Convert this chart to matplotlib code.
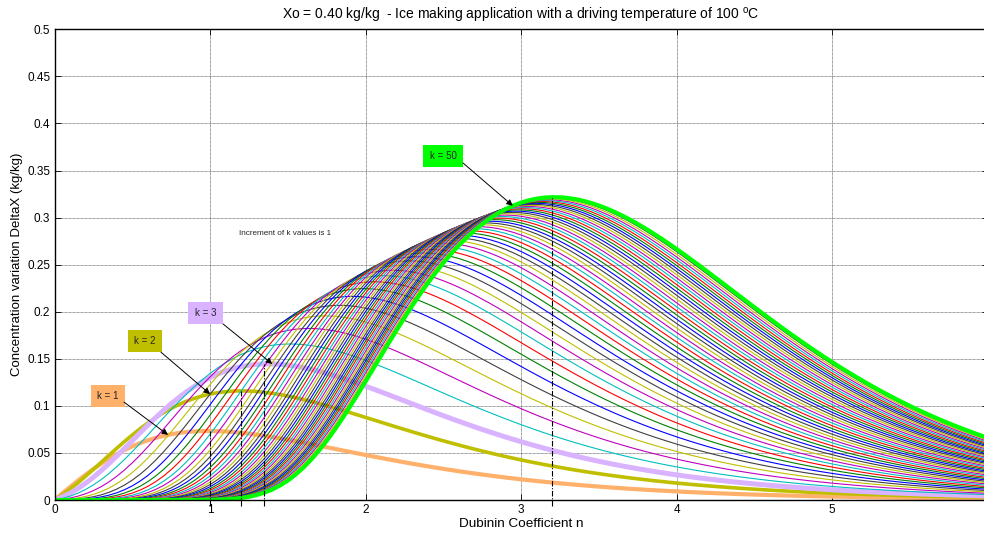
import numpy as np
import matplotlib.pyplot as plt

plt.rcParams['font.family'] = ['Liberation Sans', 'DejaVu Sans']

# values
Xo = 0.40                              # kg/kg, from the title
k_values = list(range(1, 51))          # increment of k is 1
n_values = np.arange(0, 6.0001, 0.05)  # Dubinin coefficient n
# Dubinin-Astakhov family; the two ratios are estimated from the peaks
# (k=1 ~0.074 at n=1, k=50 ~0.322 at n=3.2) and the k=50 tail
ratio_ads = 0.152
ratio_des = 0.392

# highlighted curves: k, colour, width, label position, arrow tail, arrow target n
hl_k = [1, 2, 3, 50]
hl_colors = ['#ffb06a', '#bfbf00', '#d9b3ff', '#00ff00']
hl_widths = [3.0, 2.6, 3.6, 3.0]
hl_label_xy = [(0.344, 0.1105), (0.582, 0.169), (0.971, 0.1986), (2.498, 0.3654)]
hl_tail_xy = [(0.447, 0.104), (0.685, 0.157), (1.084, 0.187), (2.627, 0.358)]
hl_target_n = [0.73, 1.0, 1.4, 2.947]

matlab_colors = [(0, 0, 1), (0, 0.5, 0), (1, 0, 0), (0, 0.75, 0.75),
                 (0.75, 0, 0.75), (0.75, 0.75, 0), (0.25, 0.25, 0.25)]

curves = {}
for k in k_values:
    curves[k] = Xo * (np.exp(-k * ratio_ads ** n_values) - np.exp(-k * ratio_des ** n_values))

fig = plt.figure(figsize=(9.84, 5.33), dpi=100)
ax = fig.add_axes([0.0554, 0.0619, 0.9482, 0.8831])

for i, k in enumerate(k_values):
    if k in hl_k:
        j = hl_k.index(k)
        ax.plot(n_values, curves[k], color=hl_colors[j], lw=hl_widths[j], solid_capstyle='butt')
    else:
        ax.plot(n_values, curves[k], color=matlab_colors[i % 7], lw=0.8)

# dash-dot lines down from the peaks of the highlighted curves
for k in hl_k:
    ip = np.argmax(curves[k])
    ax.plot([n_values[ip], n_values[ip]], [-0.006, curves[k][ip]], color='k',
            ls=(0, (5, 1.5, 1, 1.5)), lw=0.8, clip_on=False, zorder=5)

# labels with arrows
for j, k in enumerate(hl_k):
    tx, ty = hl_label_xy[j]
    ax.text(tx, ty, 'k = %d' % k, fontsize=7, ha='center', va='center', color='0.15',
            bbox=dict(boxstyle='square,pad=0.65', fc=hl_colors[j], ec='none'), zorder=6)
    yt = np.interp(hl_target_n[j], n_values, curves[k])
    ax.annotate('', xy=(hl_target_n[j], yt), xytext=hl_tail_xy[j],
                arrowprops=dict(arrowstyle='-|>', color='k', lw=0.7,
                                mutation_scale=9, shrinkA=0, shrinkB=0), zorder=6)

ax.text(1.187, 0.2826, 'Increment of k values is 1', fontsize=5.9, va='center', color='0.15')

ax.set_xlim(0, 6)
ax.set_ylim(0, 0.5)
ax.set_xticks([0, 1, 2, 3, 4, 5])
ax.set_yticks(np.arange(0, 0.501, 0.05))
ax.set_yticklabels(['%g' % round(v, 2) for v in np.arange(0, 0.501, 0.05)])
ax.tick_params(direction='in', length=4, width=0.6, top=True, right=True,
               labelsize=8.5, pad=3)
ax.grid(True, color='0.45', ls=(0, (1, 0.6)), lw=0.6)
for s in ax.spines.values():
    s.set_linewidth(1.0)

ax.set_title(r'Xo = 0.40 kg/kg  - Ice making application with a driving temperature of 100 $^{\mathregular{o}}$C',
             fontsize=10, pad=7)
ax.set_xlabel('Dubinin Coefficient n', fontsize=9.7, labelpad=1)
ax.set_ylabel('Concentration variation DeltaX (kg/kg)', fontsize=9.5, labelpad=3)

fig.savefig('out.png', dpi=100)
